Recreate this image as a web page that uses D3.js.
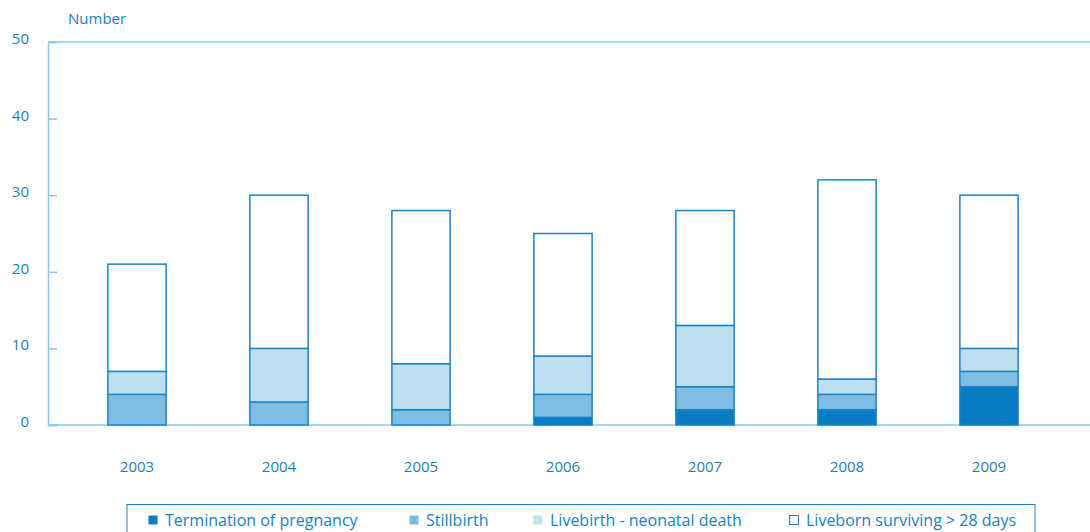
<!DOCTYPE html>
<meta charset="utf-8">
<style>
body { margin: 0; background: #fff; }
text { font-family: "Open Sans", sans-serif; fill: #1a80c2; }
</style>
<body>
<script src="https://cdn.jsdelivr.net/npm/d3@7/dist/d3.min.js"></script>
<script>

// data
const years = ["2003", "2004", "2005", "2006", "2007", "2008", "2009"];
const termination = [0, 0, 0, 1, 2, 2, 5];
const stillbirth  = [4, 3, 2, 3, 3, 2, 2];
const neonatal    = [3, 7, 6, 5, 8, 2, 3];
const surviving   = [14, 20, 20, 16, 15, 26, 20];
const seriesNames = ["Termination of pregnancy", "Stillbirth", "Livebirth - neonatal death", "Liveborn surviving > 28 days"];
const yTicks = [0, 10, 20, 30, 40, 50];

var colors = ["#0a7dc2", "#80bde2", "#c0dff0", "#ffffff"];
var strokeCol = "#1a84c7";
var axisCol = "#8cc6e8";

var width = 1090, height = 532;

var svg = d3.select("body").append("svg")
  .attr("width", width)
  .attr("height", height);

var x = d3.scaleBand().domain(years).range([66, 1060])
  .paddingInner(0.59).paddingOuter(0.295);
var y = d3.scaleLinear().domain([0, 50]).range([425, 42]);

var rows = years.map(function(yr, i) {
  return { year: yr, t: termination[i], s: stillbirth[i], n: neonatal[i], l: surviving[i] };
});
var stack = d3.stack().keys(["t", "s", "n", "l"])(rows);

// frame: top line, baseline, left axis
svg.append("line").attr("x1", 48).attr("x2", width).attr("y1", y(50)).attr("y2", y(50))
  .attr("stroke", axisCol).attr("stroke-width", 1.5);
svg.append("line").attr("x1", 48).attr("x2", width).attr("y1", y(0)).attr("y2", y(0))
  .attr("stroke", axisCol).attr("stroke-width", 1.5);

var yAxis = d3.axisRight(y).tickValues(yTicks).tickSize(9).tickFormat("");
var ga = svg.append("g").attr("transform", "translate(48,0)").call(yAxis);
ga.select(".domain").attr("stroke", axisCol).attr("stroke-width", 1.5);
ga.selectAll(".tick line").attr("stroke", axisCol).attr("stroke-width", 1.5);

svg.selectAll(".ylab").data(yTicks).enter().append("text")
  .attr("class", "ylab")
  .attr("x", 29).attr("y", function(d) { return y(d) + 2; })
  .attr("text-anchor", "end")
  .style("font-size", "15px")
  .text(function(d) { return d; });

svg.append("text").attr("x", 68).attr("y", 24)
  .style("font-size", "15px").text("Number");

// bars
var layer = svg.selectAll(".layer").data(stack).enter().append("g")
  .attr("class", "layer")
  .attr("fill", function(d, i) { return colors[i]; });

layer.selectAll("rect").data(function(d) { return d.filter(function(p) { return p[1] > p[0]; }); })
  .enter().append("rect")
  .attr("x", function(d) { return x(d.data.year); })
  .attr("width", x.bandwidth())
  .attr("y", function(d) { return y(d[1]); })
  .attr("height", function(d) { return y(d[0]) - y(d[1]); })
  .attr("stroke", strokeCol)
  .attr("stroke-width", 1.5);

// x labels
svg.selectAll(".xlab").data(years).enter().append("text")
  .attr("class", "xlab")
  .attr("x", function(d) { return x(d) + x.bandwidth() / 2; })
  .attr("y", 472)
  .attr("text-anchor", "middle")
  .style("font-size", "15px")
  .text(function(d) { return d; });

// legend
svg.append("rect").attr("x", 127).attr("y", 504.5).attr("width", 908).attr("height", 40)
  .attr("fill", "none").attr("stroke", strokeCol).attr("stroke-width", 1);

var legX = [148, 409, 533, 789];
var leg = svg.selectAll(".legend").data(seriesNames).enter().append("g")
  .attr("class", "legend")
  .attr("transform", function(d, i) { return "translate(" + legX[i] + ",0)"; });

leg.append("rect")
  .attr("x", 0.5).attr("y", 515.5).attr("width", 9).attr("height", 9)
  .attr("fill", function(d, i) { return colors[i]; })
  .attr("stroke", function(d, i) { return i == 3 ? strokeCol : "none"; })
  .attr("stroke-width", 1);

leg.append("text")
  .attr("x", 17).attr("y", 526)
  .style("font-size", "16px")
  .text(function(d) { return d; });

</script>
</body>
